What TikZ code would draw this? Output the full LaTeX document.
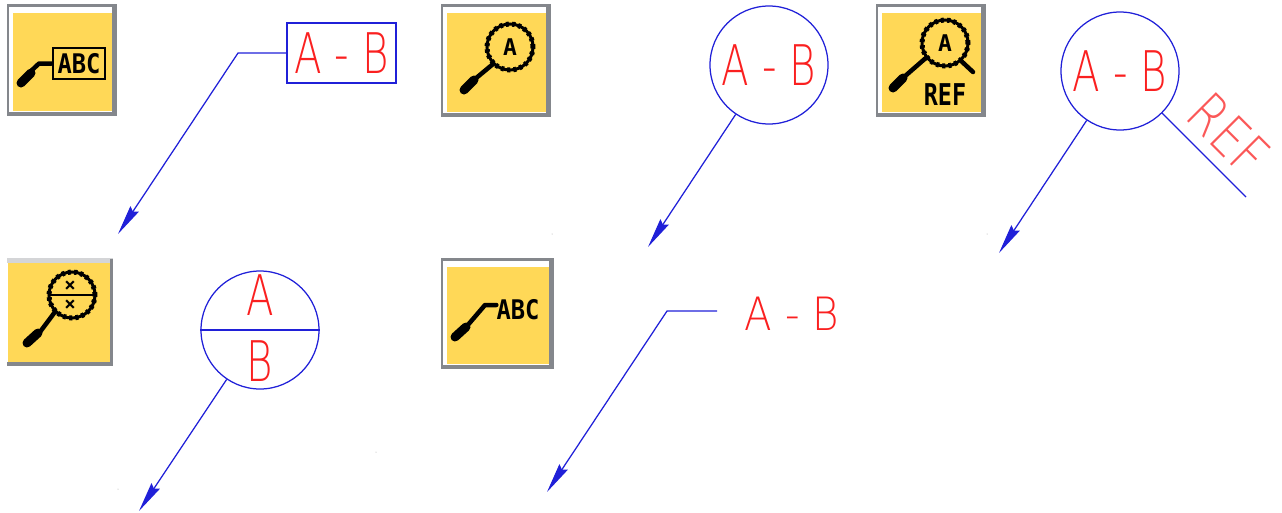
\documentclass[tikz,border=0pt]{standalone}
\usepackage{fontspec}
\setmainfont{Liberation Sans}
\newfontfamily\cadfont{DejaVu Sans ExtraLight}
\newfontfamily\iconfont{DejaVu Sans Mono Bold}
\usetikzlibrary{arrows.meta}
\definecolor{cadblue}{HTML}{2020D8}
\definecolor{cadred}{HTML}{FA2020}
\definecolor{iconyellow}{HTML}{FFD857}
\definecolor{icongray}{HTML}{84878C}
\newcommand\cadtext[2][0.72]{\scalebox{#1}[1]{\cadfont\fontsize{56}{56}\selectfont #2}}
\newcommand\icontext[3]{\scalebox{#2}[1]{\iconfont\fontsize{#1}{#1}\selectfont #3}}
\newcommand\iconbox[4]{%
  \fill[icongray] (#1,#2) rectangle (#3,#4);
  \fill[white] (#1+1.5,#2+2.5) rectangle (#3-5,#4-4);
  \fill[iconyellow] (#1+6,#2+9) rectangle (#3-5,#4-5);
}
\tikzset{
  cad/.style={draw=cadblue,line width=1.25pt},
  leader/.style={cad,-{Stealth[length=30pt,width=10pt,inset=3pt]}},
  lab/.style={text=cadred,inner sep=0pt},
  ring/.style={circle,cad,minimum size=118pt,inner sep=0pt,text=cadred},
  tag/.style={rectangle,cad,minimum width=109pt,minimum height=60pt,inner sep=0pt,text=cadred},
  lens/.style={circle,draw=black,line width=3pt,minimum size=46pt,inner sep=0pt,text=black},
  bumps/.style={circle,draw=black,line width=5pt,dash pattern=on 3pt off 3.2pt,minimum size=46pt,inner sep=0pt},
  stem/.style={draw=black,line width=4.5pt,line cap=round,line join=round},
  torch/.style={draw=black,line width=9pt,line cap=round},
  itext/.style={text=black,inner sep=0pt},
  speck/.style={fill=gray!70},
}
\begin{document}
\begin{tikzpicture}[x=1pt,y=-1pt]
\useasboundingbox (0,0) rectangle (1282,512);
% icons
\iconbox{7}{4}{117}{116}
\iconbox{441}{4}{551}{117}
\iconbox{876}{4}{986}{117}
\fill[icongray!35] (7,258) rectangle (113,263);
\fill[icongray] (110,259) rectangle (113,366);
\fill[icongray] (7,362) rectangle (113,366);
\fill[iconyellow] (8,263) rectangle (110,362);
\iconbox{441}{258}{554}{369}
% icon 1
\node[draw=black,line width=2.6pt,rectangle,minimum width=52pt,minimum height=31pt,itext,inner sep=0pt] (i1) at (79,63.5) {\icontext{27}{0.88}{ABC}};
\draw[stem] (i1.west) -- (39,63.5) -- (30,72);
\draw[torch] (21,83) -- (31,73);
% icon 2
\node[bumps] at (510,47) {};
\node[lens] (i2) at (510,47) {\icontext{23}{1}{A}};
\draw[stem] (i2.225) -- (475,79);
\draw[torch] (464,90) -- (474,80);
% icon 3
\node[bumps] at (945,43) {};
\node[lens] (i3) at (945,43) {\icontext{23}{1}{A}};
\draw[stem] (i3.218) -- (904,77);
\draw[torch] (893,88) -- (903,78);
\coordinate (i3h) at (973,72);
\draw[stem] (i3.-48) -- (i3h);
\node[itext] at (945,95) {\icontext{30}{0.78}{REF}};
% icon 4
\node[bumps] at (72,295) {};
\node[lens] (i4) at (72,295) {};
\draw[draw=black,line width=2.6pt] (i4.west) -- (i4.east);
\node[itext] at (70,286) {\icontext{19}{1}{×}};
\node[itext] at (70,305) {\icontext{19}{1}{×}};
\draw[stem] (i4.225) -- (40,332);
\draw[torch] (27,343) -- (38,333);
% icon 5
\node[itext] (i5) at (518,310) {\icontext{27}{0.88}{ABC}};
\coordinate (i5e) at (485,305);
\draw[stem] (i5.west |- i5e) -- (i5e) -- (467,326);
\draw[torch] (455,337) -- (466,327);
% drawing 1
\node[tag] (t1) at (341.5,53) {\cadtext{A - B}};
\coordinate (e1) at (238,53);
\coordinate (a1) at (118,234);
\draw[leader] (t1.west) -- (e1) -- (a1);
% drawing 2
\node[ring] (r2) at (769,65) {\cadtext{A - B}};
\coordinate (a2) at (648,247);
\draw[leader] (r2.236.6) -- (a2);
% drawing 3
\node[ring] (r3) at (1120,71) {\cadtext{A - B}};
\coordinate (a3) at (999,253);
\coordinate (f3) at (1246,197);
\draw[leader] (r3.236.6) -- (a3);
\draw[cad] (r3.-45) -- (f3);
\node[lab,rotate=-45,opacity=0.75] (l3) at (1229,134) {\cadtext[0.82]{REF}};
% drawing 4
\node[ring] (r4) at (260,330) {};
\draw[cad] (r4.west) -- (r4.east);
\node[lab] (la) at (260,295) {\cadtext{A}};
\node[lab] (lb) at (260,361) {\cadtext{B}};
\coordinate (a4) at (139,511);
\draw[leader] (r4.236.6) -- (a4);
% drawing 5
\node[lab,minimum width=92pt] (t5) at (792,313.5) {\scalebox{0.72}[0.82]{\cadfont\fontsize{56}{56}\selectfont A - B}};
\coordinate (s5) at (717,311);
\coordinate (e5) at (667,311);
\coordinate (a5) at (547,492);
\draw[leader] (s5) -- (e5) -- (a5);
% specks
\fill[speck] (552,234) circle (.5);
\fill[speck] (987,234) circle (.5);
\fill[speck] (376,452) circle (.5);
\fill[speck] (118,489) circle (.5);
\end{tikzpicture}
\end{document}
